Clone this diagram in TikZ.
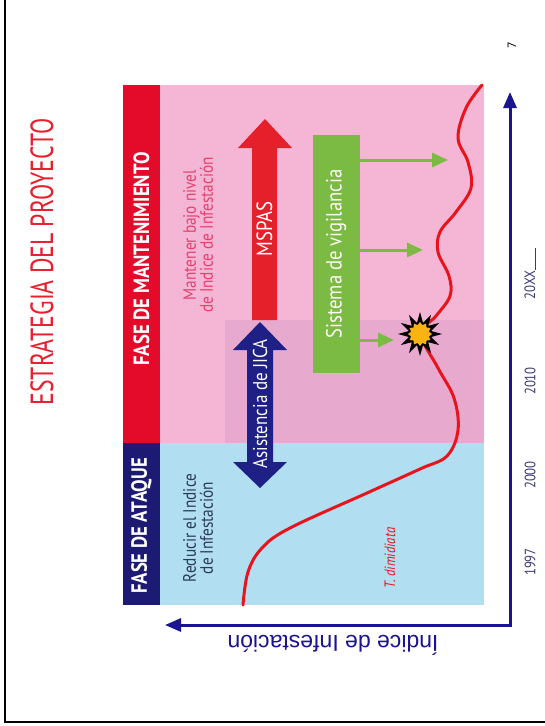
\documentclass[tikz,border=0pt]{standalone}
\usepackage{fontspec}
\setmainfont{PT Sans}
\newfontfamily\condf{PT Sans}[FakeStretch=0.85]
\newfontfamily\titlef{PT Sans}[FakeStretch=0.74]
\newfontfamily\axisf{Liberation Sans}
\usetikzlibrary{arrows.meta,shapes.geometric}
\definecolor{pinkbg}{HTML}{F4B6D4}
\definecolor{mauvebg}{HTML}{E8A9CF}
\definecolor{bluebg}{HTML}{B2DEF2}
\definecolor{redbar}{HTML}{E30A2A}
\definecolor{navybar}{HTML}{1C1A73}
\definecolor{axisblue}{HTML}{1A1490}
\definecolor{vgreen}{HTML}{7BBB44}
\definecolor{msred}{HTML}{E5202A}
\definecolor{jicablue}{HTML}{1E2085}
\definecolor{curvered}{HTML}{E8141B}
\definecolor{titlered}{HTML}{E8202E}
\definecolor{mantred}{HTML}{E8406E}
\definecolor{reddark}{HTML}{2A3A5A}
\definecolor{yearcol}{HTML}{3A3A78}
\definecolor{burstyellow}{HTML}{F9B313}
\tikzset{
  vlabel/.style={rotate=90, inner sep=0pt, align=center},
  garrow/.style={draw=vgreen, line width=3pt, -{Triangle[length=16pt,width=14pt]}},
  axisline/.style={draw=axisblue, line width=3pt, line join=miter,
    {Triangle[length=16pt,width=13pt]}-{Triangle[length=16pt,width=13pt]}},
  yearlabel/.style={vlabel, text=yearcol, font={\condf\fontsize{15}{15}\selectfont}}
}
\begin{document}
\begin{tikzpicture}[x=1pt,y=-1pt]
\useasboundingbox (0,0) rectangle (544,726);
\fill[white] (0,0) rectangle (544,726);
% frame
\draw[black, line width=2pt] (5,-5) -- (5,722) -- (550,722);
% title
\node[vlabel, text=titlered, font={\titlef\fontsize{32}{32}\selectfont}] (title) at (42,262) {ESTRATEGIA DEL PROYECTO};
\node[vlabel, text=black, font={\fontsize{12}{12}\selectfont}] (pagenum) at (512,45) {7};
% panel backgrounds
\fill[pinkbg] (160,85) rectangle (484,443);
\fill[mauvebg] (225,320) rectangle (484,443);
\fill[bluebg] (160,443) rectangle (484,605);
\fill[redbar] (123,85) rectangle (160,443);
\fill[navybar] (123,443) rectangle (160,605);
% bar labels
\node[vlabel, text=white, font={\condf\bfseries\fontsize{22}{22}\selectfont}] (fasem) at (141.5,259) {FASE DE MANTENIMIENTO};
\node[vlabel, text=white, font={\condf\bfseries\fontsize{22}{22}\selectfont}] (fasea) at (141.5,526) {FASE DE ATAQUE};
% phase descriptions
\node[vlabel, text=mantred, font={\condf\fontsize{18}{17}\selectfont}] (mant) at (198,235) {Mantener bajo nivel\\de Indice de Infestación};
\node[vlabel, text=reddark, font={\condf\fontsize{18}{17}\selectfont}] (red) at (198,528) {Reducir el Indice\\de Infestación};
% MSPAS arrow
\fill[msred] (252,320) -- (252,148) -- (238,148) -- (265,119) -- (292,148) -- (277,148) -- (277,320) -- cycle;
\node[vlabel, text=white, font={\condf\fontsize{22}{22}\selectfont}] (mspas) at (264.5,229) {MSPAS};
% JICA arrow
\fill[jicablue] (247,350) -- (233,350) -- (260,322) -- (287,350) -- (273,350) -- (273,462) -- (287,462) -- (260,488) -- (233,462) -- (247,462) -- cycle;
\node[vlabel, text=white, font={\condf\fontsize{20}{20}\selectfont}] (jica) at (260,404) {Asistencia de JICA};
% vigilance box
\node[vlabel, fill=vgreen, minimum width=238pt, minimum height=47pt, text=white!92!pink, font={\condf\fontsize{22}{22}\selectfont}] (vig) at (336,254) {Sistema de vigilancia};
% curve
\draw[curvered, line width=3pt, line cap=round] plot[smooth, tension=0.6] coordinates {
 (243,605) (248,572) (262,548) (290,528) (367,493) (420,469) (447,456) (458,430) (454,398) (438,368) (421,334)
 (436,316) (450,296) (449,276) (438,252) (440,232) (456,212) (471,188) (468,162) (458,138) (466,108) (482,85)};
\node[vlabel, text=curvered, font={\condf\itshape\fontsize{15}{15}\selectfont}] (tdim) at (390,558) {T. dimidiata};
% green arrows
\coordinate (g1) at (448,160);
\coordinate (g2) at (423,250);
\coordinate (g3) at (394,340);
\draw[garrow] (vig.south |- g1) -- (g1);
\draw[garrow] (vig.south |- g2) -- (g2);
\draw[garrow] (vig.south |- g3) -- (g3);
% starburst
\node[star, star points=12, star point ratio=1.9, fill=black, minimum size=44pt, inner sep=0pt] (burst) at (420,334) {};
\node[star, star points=12, star point ratio=1.3, fill=burstyellow, minimum size=24pt, inner sep=0pt] (core) at (burst) {};
% axes
\coordinate (O) at (510,625);
\coordinate (ytip) at (510,92);
\coordinate (xtip) at (165,625);
\draw[axisline] (xtip) -- (O) -- (ytip);
\node[rotate=180, inner sep=0pt, text=axisblue, font={\axisf\fontsize{23}{23}\selectfont}] (ylab) at (333,645) {Índice de Infestación};
% years
\node[yearlabel] (y1997) at (530,562) {1997};
\node[yearlabel] (y2000) at (530,475) {2000};
\node[yearlabel] (y2010) at (530,381) {2010};
\node[yearlabel] (y20xx) at (530,274) {20XX\rule[-0.5pt]{22pt}{0.7pt}};
\end{tikzpicture}
\end{document}
